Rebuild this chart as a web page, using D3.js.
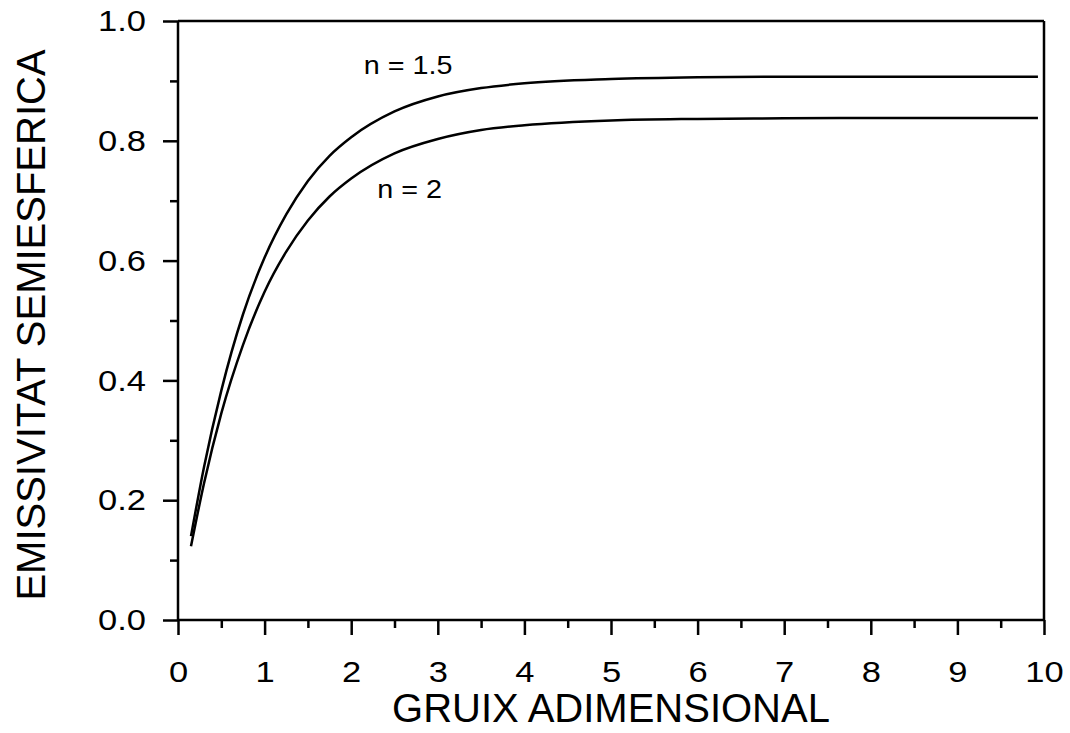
<!DOCTYPE html>
<html>
<head>
<meta charset="utf-8">
<script src="https://cdn.jsdelivr.net/npm/d3@7"></script>
<style>
  html, body { margin: 0; padding: 0; background: #fff; }
  svg { display: block; }
  text { font-family: "Liberation Sans", Arial, sans-serif; fill: #000; }
</style>
</head>
<body>
<svg id="chart" width="1070" height="733"></svg>
<script>
// ---- data ----
const xValues = [0.15, 0.3, 0.5, 0.75, 1.0, 1.25, 1.5, 1.75, 2.0, 2.5, 3.0, 3.5, 4.0, 5.0, 6.0, 7.0, 8.0, 9.0, 9.93];
const emisN15 = [0.140, 0.255, 0.383, 0.510, 0.605, 0.677, 0.733, 0.775, 0.806, 0.849, 0.874, 0.888, 0.896, 0.903, 0.906, 0.907, 0.907, 0.907, 0.907];
const emisN2  = [0.123, 0.228, 0.345, 0.459, 0.548, 0.615, 0.667, 0.707, 0.737, 0.779, 0.803, 0.818, 0.826, 0.834, 0.8365, 0.8375, 0.838, 0.838, 0.838];
const xTicks = [0, 1, 2, 3, 4, 5, 6, 7, 8, 9, 10];
const yTicks = [0.0, 0.2, 0.4, 0.6, 0.8, 1.0];
const xMinor = [0.5, 1.5, 2.5, 3.5, 4.5, 5.5, 6.5, 7.5, 8.5, 9.5];
const yMinor = [0.1, 0.3, 0.5, 0.7, 0.9];
const xTitle = "GRUIX ADIMENSIONAL";
const yTitle = "EMISSIVITAT SEMIESFERICA";
const labels = [{text: "n = 1.5", x: 2.145, y: 0.912}, {text: "n = 2", x: 2.3, y: 0.704}];

// ---- layout ----
const W = 1070, H = 733;
const m = {left: 178, right: 26, top: 21, bottom: 113};
const svg = d3.select("#chart");
const g = svg.append("g").attr("transform", `translate(${m.left},${m.top})`);
const iw = W - m.left - m.right, ih = H - m.top - m.bottom;

const x = d3.scaleLinear().domain([0, 10]).range([0, iw]);
const y = d3.scaleLinear().domain([0, 1]).range([ih, 0]);

const stroke = 2.5;
const SX = 1.15; // horizontal stretch of the reference lettering

function stretch(sel) {
  sel.each(function() {
    const t = d3.select(this);
    const tx = +t.attr("x") || 0, ty = +t.attr("y") || 0;
    t.attr("transform", `translate(${tx},${ty}) scale(${SX},1) translate(${-tx},${-ty})`);
  });
}

// frame (top and right)
g.append("line").attr("x1", 0).attr("x2", iw).attr("y1", 0).attr("y2", 0)
  .attr("stroke", "#000").attr("stroke-width", stroke);
g.append("line").attr("x1", iw).attr("x2", iw).attr("y1", 0).attr("y2", ih)
  .attr("stroke", "#000").attr("stroke-width", stroke);

// x axis
const xAxis = g.append("g").attr("transform", `translate(0,${ih})`)
  .call(d3.axisBottom(x).tickValues(xTicks).tickFormat(d3.format("d")).tickSize(15).tickPadding(26));
const xMinorAxis = g.append("g").attr("transform", `translate(0,${ih})`)
  .call(d3.axisBottom(x).tickValues(xMinor).tickFormat("").tickSize(8));

// y axis
const yAxis = g.append("g")
  .call(d3.axisLeft(y).tickValues(yTicks).tickFormat(d3.format(".1f")).tickSize(15).tickPadding(17));
const yMinorAxis = g.append("g")
  .call(d3.axisLeft(y).tickValues(yMinor).tickFormat("").tickSize(8));

[xAxis, xMinorAxis, yAxis, yMinorAxis].forEach(a => {
  a.selectAll(".tick line").attr("stroke", "#000").attr("stroke-width", stroke);
  a.selectAll(".tick text").style("font-size", "30px").style("font-family", '"Liberation Sans", Arial, sans-serif');
  stretch(a.selectAll(".tick text"));
});
xAxis.select(".domain").attr("stroke", "#000").attr("stroke-width", stroke).attr("d", `M0,0H${iw}`);
xMinorAxis.select(".domain").remove();
yAxis.select(".domain").attr("stroke", "#000").attr("stroke-width", stroke).attr("d", `M0,${ih}V0`);
yMinorAxis.select(".domain").remove();

// curves
const line = d3.line().x(d => x(d[0])).y(d => y(d[1])).curve(d3.curveMonotoneX);
[emisN15, emisN2].forEach(series => {
  g.append("path")
    .datum(xValues.map((xv, i) => [xv, series[i]]))
    .attr("d", line)
    .attr("fill", "none")
    .attr("stroke", "#000")
    .attr("stroke-width", stroke);
});

// annotations
labels.forEach(l => {
  const t = g.append("text").attr("x", x(l.x)).attr("y", y(l.y))
    .style("font-size", "25px").text(l.text);
  stretch(t);
});

// axis titles
svg.append("text")
  .attr("x", m.left + iw / 2).attr("y", 722)
  .attr("text-anchor", "middle").style("font-size", "40px")
  .text(xTitle);
svg.append("text")
  .attr("transform", `translate(45,${325}) rotate(-90)`)
  .attr("text-anchor", "middle").style("font-size", "40px")
  .text(yTitle);
</script>
</body>
</html>
